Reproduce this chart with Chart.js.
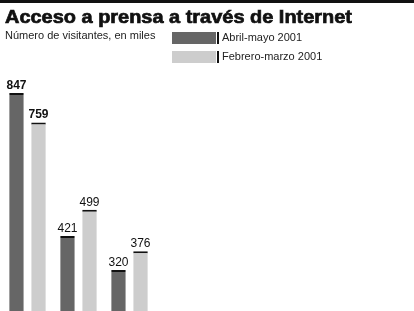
<!DOCTYPE html>
<html>
<head>
<meta charset="utf-8">
<script src="https://cdn.jsdelivr.net/npm/chart.js@4"></script>
<style>
    html, body { margin: 0; padding: 0; background: #fff; overflow: hidden; }
    #wrap { position: relative; width: 414px; height: 311px; }
    #chart { position: absolute; left: 0; top: 0; }
    .rule { position: absolute; left: 0; top: 0; width: 414px; height: 3px; background: #111; }
    .title { position: absolute; left: 5px; top: 6px; font: 900 19px "Liberation Sans", Arial, sans-serif; color: #111; white-space: nowrap; transform-origin: left top; -webkit-text-stroke: 0.7px #111; }
    .subtitle { position: absolute; left: 5px; top: 29px; font: 11px "Liberation Sans", Arial, sans-serif; color: #222; white-space: nowrap; }
    .legend-item { position: absolute; left: 172px; height: 12px; }
    .legend-item .box { position: absolute; left: 0; top: 0; width: 44px; height: 12px; }
    .legend-item .tick { position: absolute; left: 45px; top: 0; width: 2px; height: 12px; background: #111; }
    .legend-item .label { position: absolute; left: 50px; top: -1px; font: 11px "Liberation Sans", Arial, sans-serif; color: #222; white-space: nowrap; }
</style>
</head>
<body>
<div id="wrap">
    <canvas id="chart" width="414" height="311"></canvas>
    <div class="rule"></div>
    <div class="title" id="title">Acceso a prensa a través de Internet</div>
    <div class="subtitle">Número de visitantes, en miles</div>
    <div id="legend"></div>
</div>
<script>
const categories = ["Grupo 1", "Grupo 2", "Grupo 3"];
const seriesLabels = ["Abril-mayo 2001", "Febrero-marzo 2001"];
const abrilMayo = [847, 421, 320];
const febreroMarzo = [759, 499, 376];
const seriesColors = ["#666666", "#cdcdcd"];

/*
=====================================
HEADER
=====================================
*/

const title = document.getElementById("title");
const titleWidth = title.getBoundingClientRect().width;
title.style.transform = "scaleX(" + (347 / titleWidth) + ")";

const legend = document.getElementById("legend");
const legendTops = [32, 51];

seriesLabels.forEach((label, i) => {
    const item = document.createElement("div");
    item.className = "legend-item";
    item.style.top = legendTops[i] + "px";
    item.innerHTML =
        '<div class="box" style="background:' + seriesColors[i] + '"></div>' +
        '<div class="tick"></div>' +
        '<div class="label">' + label + '</div>';
    legend.appendChild(item);
});

/*
=====================================
VALUE LABELS
=====================================
*/

const valueLabels = {
    id: "valueLabels",
    afterDatasetsDraw(chart) {
        const ctx = chart.ctx;
        ctx.save();
        ctx.fillStyle = "#111";
        ctx.textAlign = "center";
        ctx.textBaseline = "alphabetic";
        chart.data.datasets.forEach((ds, di) => {
            chart.getDatasetMeta(di).data.forEach((bar, i) => {
                ctx.font = (i === 0 ? "bold " : "") + "12px 'Liberation Sans', Arial, sans-serif";
                ctx.fillText(ds.data[i], bar.x, bar.y - 4);
            });
        });
        ctx.restore();
    }
};

new Chart(document.getElementById("chart"), {
    type: "bar",
    data: {
        labels: categories,
        datasets: [
            {
                label: seriesLabels[0],
                data: abrilMayo,
                backgroundColor: seriesColors[0],
                borderColor: "#111",
                borderWidth: { top: 2, left: 0, right: 0, bottom: 0 },
                borderSkipped: false
            },
            {
                label: seriesLabels[1],
                data: febreroMarzo,
                backgroundColor: seriesColors[1],
                borderColor: "#111",
                borderWidth: { top: 2, left: 0, right: 0, bottom: 0 },
                borderSkipped: false
            }
        ]
    },
    options: {
        responsive: false,
        animation: false,
        events: [],
        categoryPercentage: 0.864,
        barPercentage: 0.66,
        layout: {
            padding: { left: 2, right: 259, top: 41.5, bottom: 0 }
        },
        plugins: {
            legend: { display: false },
            title: { display: false },
            tooltip: { enabled: false }
        },
        scales: {
            x: { display: false },
            y: { display: false, min: 198, max: 1000 }
        }
    },
    plugins: [valueLabels]
});
</script>
</body>
</html>
